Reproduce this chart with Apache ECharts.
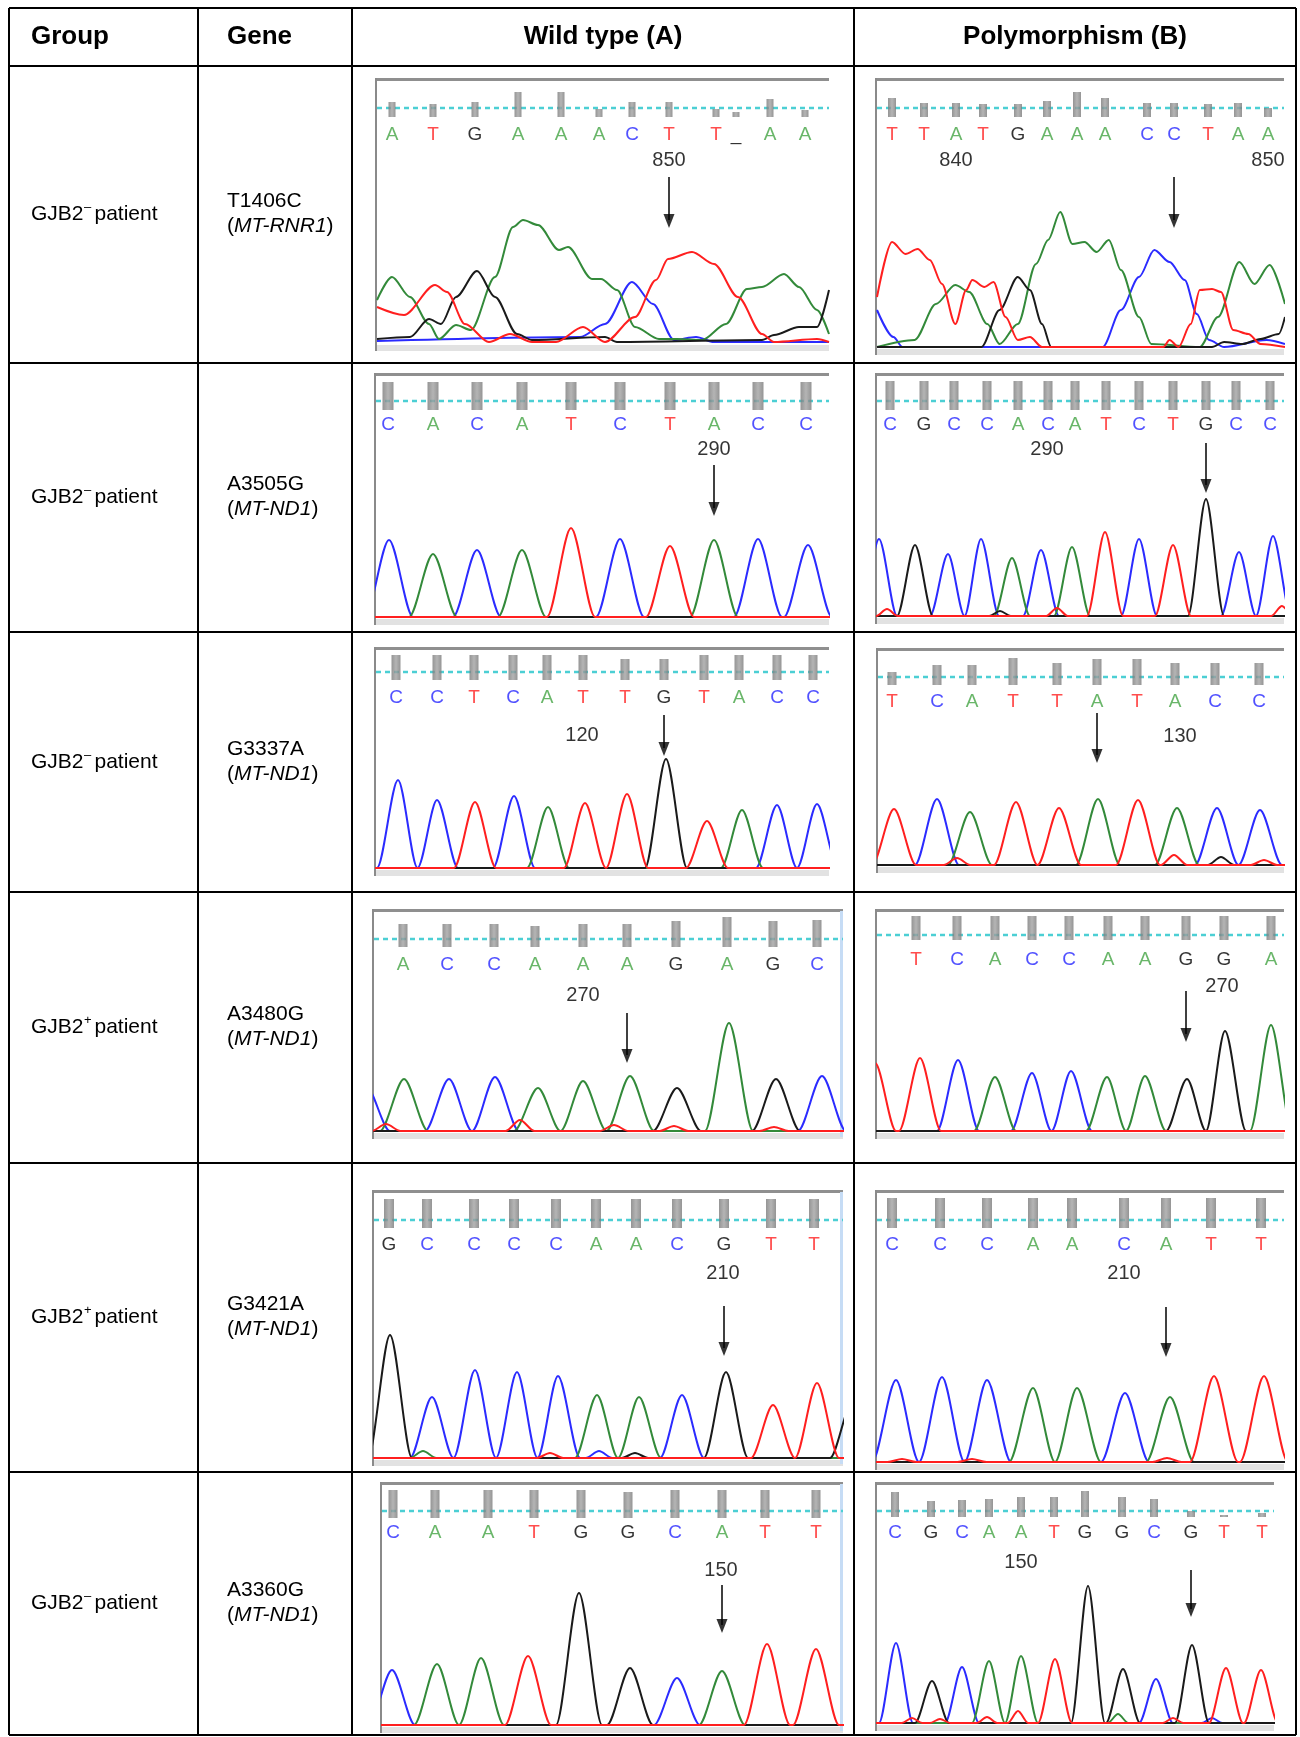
<!DOCTYPE html>
<html>
<head>
<meta charset="UTF-8">
<title>mtDNA polymorphisms</title>
<script src="https://cdn.jsdelivr.net/npm/echarts@6/dist/echarts.min.js"></script>
<style>
body{margin:0;background:#fff;}
#chart{width:1300px;height:1737px;}
</style>
</head>
<body>
<div id="chart"></div>
<script>

// table text
const headers = ["Group","Gene","Wild type (A)","Polymorphism (B)"]
const groupNames = ["GJB2","GJB2","GJB2","GJB2","GJB2","GJB2"]
const groupSigns = ["–","–","–","+","+","–"]
const geneVariants = ["T1406C","A3505G","G3337A","A3480G","G3421A","A3360G"]
const geneLoci = ["MT-RNR1","MT-ND1","MT-ND1","MT-ND1","MT-ND1","MT-ND1"]

// row 1, wild type: broad overlapping peaks, read point by point
const wt1Calls = ["A","T","G","A","A","A","C","T","T","_","A","A"]
const wt1CallX = [15,56,98,141,184,222,255,292,339,359,393,428]
const wt1Quality = [15,13,15,25,25,8,15,15,8,5,18,7]
const wt1Labels = [["850",292]]
const wt1ArrowX = 292
const wt1TraceA = [[0,43],[15,66],[33,46],[52,19],[62,4],[79,18],[94,13],[118,66],[136,116],[146,123],[161,118],[182,93],[191,96],[215,64],[224,64],[240,53],[258,16],[282,4],[300,4],[325,3],[349,19],[370,54],[385,56],[407,69],[422,56],[440,33],[452,9]]
const wt1TraceT = [[0,36],[27,28],[58,58],[70,51],[88,19],[112,1],[133,9],[155,1],[179,1],[206,16],[228,1],[258,26],[279,63],[291,84],[315,91],[337,79],[361,46],[385,9],[397,1],[440,4],[452,1]]
const wt1TraceG = [[0,4],[33,6],[52,24],[64,19],[79,46],[100,72],[118,46],[140,9],[155,3],[228,6],[240,1],[385,3],[397,8],[422,16],[440,16],[452,53]]
const wt1TraceC = [[0,2],[203,6],[228,19],[255,61],[276,39],[297,3],[319,6],[337,1],[391,1],[452,1]]

// row 1, polymorphism
const pm1Calls = ["T","T","A","T","G","A","A","A","C","C","T","A","A"]
const pm1CallX = [15,47,79,106,141,170,200,228,270,297,331,361,391]
const pm1Quality = [19,14,14,13,13,16,25,19,14,14,13,14,9]
const pm1Labels = [["840",79],["850",391]]
const pm1ArrowX = 297
const pm1TraceT = [[0,50],[15,105],[28.5,93],[40.6,98],[52.8,87],[65,63],[78.3,23],[89.2,57],[95.3,67],[107.4,60],[116.5,65],[128.6,30],[140.8,7],[152.9,10],[165,0],[286.4,0],[292.5,7],[301.6,0],[313.7,23],[322.8,57],[335,58],[344,55],[356.2,17],[371.3,13],[383.5,3],[408,0]]
const pm1TraceA = [[0,0],[37.6,7],[58.9,43],[78.3,62],[92.2,55],[110.4,23],[122.6,3],[140.8,23],[159,83],[171.1,107],[183.2,135],[195.4,103],[207.5,105],[219.6,95],[231.8,107],[243.9,77],[262,30],[274.3,3],[322.8,0],[341,30],[362.3,85],[377.4,63],[392.6,82],[408,43]]
const pm1TraceG = [[0,0],[104.4,0],[122.6,37],[140.8,70],[152.9,57],[165,23],[174.2,0],[335,0],[347.1,5],[365.3,3],[383.5,8],[401.7,13],[408,30]]
const pm1TraceC = [[0,37],[16.4,10],[25.5,0],[225.7,0],[243.9,37],[262,70],[277.3,97],[292.5,85],[307.7,67],[319.8,33],[332,7],[347.1,0],[389.6,7],[408,3]]

// rows 2-6: peaks as [base, position, height]
const wt2Calls = ["C","A","C","A","T","C","T","A","C","C"]
const wt2CallX = [12,57,101,146,195,244,294,338,382,430]
const wt2Quality = [28,28,28,28,28,28,28,28,28,28]
const wt2Labels = [["290",338]]
const wt2ArrowX = 338
const wt2Peaks = [["C",13,77],["A",57,63],["C",101,67],["A",146,67],["T",195,89],["C",244,78],["T",294,71],["A",338,77],["C",382,78],["C",432,72]]

const pm2Calls = ["C","G","C","C","A","C","A","T","C","T","G","C","C"]
const pm2CallX = [13,47,77,110,141,171,198,229,262,296,329,359,393]
const pm2Quality = [29,29,29,29,29,29,29,29,29,29,29,29,29]
const pm2Labels = [["290",170]]
const pm2ArrowX = 329
const pm2Peaks = [["C",2,77],["G",38,71],["C",71,62],["C",104,77],["A",135,58],["C",164,66],["A",195,69],["T",228,84],["C",262,77],["T",296,71],["G",329,117],["C",362,64],["C",396,80],["T",10,7],["T",180,8],["T",405,10],["G",123,5]]

const wt3Calls = ["C","C","T","C","A","T","T","G","T","A","C","C"]
const wt3CallX = [20,61,98,137,171,207,249,288,328,363,401,437]
const wt3Quality = [25,25,25,25,25,25,21,21,25,25,25,25]
const wt3Labels = [["120",206]]
const wt3ArrowX = 288
const wt3Peaks = [["C",22,88],["C",61,68],["T",99,66],["C",138,72],["A",172,61],["T",209,65],["T",251,74],["G",290,109],["T",331,47],["A",366,58],["C",401,63],["C",441,64]]

const pm3Calls = ["T","C","A","T","T","A","T","A","C","C"]
const pm3CallX = [14,59,94,135,179,219,259,297,337,381]
const pm3Quality = [13,20,20,27,22,26,26,22,22,22]
const pm3Labels = [["130",302]]
const pm3ArrowX = 219
const pm3Peaks = [["T",16,56],["C",59,66],["A",92,53],["T",138,63],["T",181,57],["A",220,66],["T",260,65],["A",299,57],["C",339,57],["C",382,55],["T",79,7],["T",296,10],["G",343,8],["T",386,5]]

const wt4Calls = ["A","C","C","A","A","A","G","A","G","C"]
const wt4CallX = [29,73,120,161,209,253,302,353,399,443]
const wt4Quality = [23,23,23,21,23,23,26,30,26,27]
const wt4Labels = [["270",209]]
const wt4ArrowX = 253
const wt4Peaks = [["C",-8,45],["A",30,52],["C",75,52],["C",121,54],["A",164,43],["A",209,50],["A",256,55],["G",303,43],["A",355,108],["G",402,52],["C",448,55],["T",12,7],["T",146,11],["T",240,6],["T",300,5],["T",400,4]]

const pm4Calls = ["T","C","A","C","C","A","A","G","G","A"]
const pm4CallX = [39,80,118,155,192,231,268,309,347,394]
const pm4Quality = [24,24,24,24,24,24,24,24,24,24]
const pm4Labels = [["270",345]]
const pm4ArrowX = 309
const pm4Peaks = [["T",-2,68],["T",43,73],["C",81,71],["A",118,54],["C",155,58],["C",194,60],["A",230,54],["A",268,55],["G",310,52],["G",348,100],["A",394,106]]

const wt5Calls = ["G","C","C","C","C","A","A","C","G","T","T"]
const wt5CallX = [15,53,100,140,182,222,262,303,350,397,440]
const wt5Quality = [29,29,29,29,29,29,29,29,29,29,29]
const wt5Labels = [["210",349]]
const wt5ArrowX = 350
const wt5Peaks = [["G",16,123],["C",58,61],["C",101,88],["C",143,86],["C",184,82],["A",223,63],["A",265,61],["C",308,63],["G",352,86],["T",399,53],["T",443,75],["G",478,55],["A",49,7],["C",225,7],["G",261,5],["T",176,5]]

const pm5Calls = ["C","C","C","A","A","C","A","T","T"]
const pm5CallX = [15,63,110,156,195,247,289,334,384]
const pm5Quality = [30,30,30,30,30,30,30,30,30]
const pm5Labels = [["210",247]]
const pm5ArrowX = 289
const pm5Peaks = [["C",19,82],["C",65,85],["C",110,82],["A",156,74],["A",200,74],["C",248,69],["A",293,65],["T",337,86],["T",387,86],["T",25,3],["T",95,3],["T",290,4]]

const wt6Calls = ["C","A","A","T","G","G","C","A","T","T"]
const wt6CallX = [11,53,106,152,199,246,293,340,383,434]
const wt6Quality = [28,28,28,28,28,26,28,28,28,28]
const wt6Labels = [["150",339]]
const wt6ArrowX = 340
const wt6Peaks = [["C",10,55],["A",55,61],["A",99,67],["T",146,69],["G",197,132],["G",248,57],["C",295,47],["A",340,54],["T",385,81],["T",434,76]]

const pm6Calls = ["C","G","C","A","A","T","G","G","C","G","T","T"]
const pm6CallX = [18,54,85,112,144,177,208,245,277,314,347,385]
const pm6Quality = [25,16,17,18,20,20,26,20,18,6,2,4]
const pm6Labels = [["150",144]]
const pm6ArrowX = 314
const pm6Peaks = [["C",19,80],["G",55,42],["C",85,56],["A",112,62],["A",144,67],["T",178,64],["G",211,137],["G",246,54],["C",279,44],["G",315,78],["T",349,55],["T",384,53],["T",35,5],["T",63,4],["T",110,6],["T",141,12],["A",241,9],["T",296,5],["C",335,5]]

// colours
const traceColors = {A:"#338a3a",C:"#2b2bff",G:"#1a1a1a",T:"#ff1f1f"}
const callColors = {A:"#44a444",C:"#2525ff",G:"#000000",T:"#ff2020","_":"#000000"}
const barColor = {type:"linear",x:0,y:0,x2:1,y2:0,colorStops:[{offset:0,color:"#7a7a7a"},{offset:0.5,color:"#a2a2a2"},{offset:1,color:"#7a7a7a"}]}

// page layout of the table and of each chromatogram window
const colX = [9,198,352,854,1296]
const rowY = [8,66,363,632,892,1163,1472,1735]
const FONT = "Liberation Sans, Arial, sans-serif"

const panels = [
 {calls:wt1Calls,x:wt1CallX,q:wt1Quality,labels:wt1Labels,arrow:wt1ArrowX,traces:{A:wt1TraceA,C:wt1TraceC,G:wt1TraceG,T:wt1TraceT},
  box:{left:377,top:80,right:829,base:343,barBottom:117,cyanY:108,letterY:135,numY:160,arrowTop:177,arrowTip:228,barW:7}},
 {calls:pm1Calls,x:pm1CallX,q:pm1Quality,labels:pm1Labels,arrow:pm1ArrowX,traces:{A:pm1TraceA,C:pm1TraceC,G:pm1TraceG,T:pm1TraceT},
  box:{left:877,top:80,right:1284,base:347,barBottom:117,cyanY:108,letterY:135,numY:160,arrowTop:177,arrowTip:228,barW:8}},
 {calls:wt2Calls,x:wt2CallX,q:wt2Quality,labels:wt2Labels,arrow:wt2ArrowX,peaks:wt2Peaks,
  box:{left:376,top:375,right:829,base:617,barBottom:410,cyanY:401,letterY:425,numY:449,arrowTop:465,arrowTip:516,barW:11,hw:24}},
 {calls:pm2Calls,x:pm2CallX,q:pm2Quality,labels:pm2Labels,arrow:pm2ArrowX,peaks:pm2Peaks,
  box:{left:877,top:375,right:1284,base:616,barBottom:410,cyanY:401,letterY:425,numY:449,arrowTop:443,arrowTip:493,barW:9,hw:18}},
 {calls:wt3Calls,x:wt3CallX,q:wt3Quality,labels:wt3Labels,arrow:wt3ArrowX,peaks:wt3Peaks,
  box:{left:376,top:649,right:829,base:868,barBottom:680,cyanY:672,letterY:698,numY:735,arrowTop:715,arrowTip:756,barW:9,hw:21}},
 {calls:pm3Calls,x:pm3CallX,q:pm3Quality,labels:pm3Labels,arrow:pm3ArrowX,peaks:pm3Peaks,
  box:{left:878,top:650,right:1284,base:865,barBottom:685,cyanY:677,letterY:702,numY:736,arrowTop:713,arrowTip:763,barW:9,hw:22}},
 {calls:wt4Calls,x:wt4CallX,q:wt4Quality,labels:wt4Labels,arrow:wt4ArrowX,peaks:wt4Peaks,
  box:{left:374,top:911,right:843,base:1131,barBottom:947,cyanY:939,letterY:965,numY:995,arrowTop:1013,arrowTip:1063,barW:9,hw:24,edge:true}},
 {calls:pm4Calls,x:pm4CallX,q:pm4Quality,labels:pm4Labels,arrow:pm4ArrowX,peaks:pm4Peaks,
  box:{left:877,top:911,right:1284,base:1131,barBottom:940,cyanY:935,letterY:960,numY:986,arrowTop:991,arrowTip:1042,barW:9,hw:21}},
 {calls:wt5Calls,x:wt5CallX,q:wt5Quality,labels:wt5Labels,arrow:wt5ArrowX,peaks:wt5Peaks,
  box:{left:374,top:1192,right:843,base:1458,barBottom:1228,cyanY:1220,letterY:1245,numY:1273,arrowTop:1306,arrowTip:1356,barW:10,hw:22,edge:true}},
 {calls:pm5Calls,x:pm5CallX,q:pm5Quality,labels:pm5Labels,arrow:pm5ArrowX,peaks:pm5Peaks,
  box:{left:877,top:1192,right:1284,base:1462,barBottom:1228,cyanY:1220,letterY:1245,numY:1273,arrowTop:1307,arrowTip:1357,barW:10,hw:24}},
 {calls:wt6Calls,x:wt6CallX,q:wt6Quality,labels:wt6Labels,arrow:wt6ArrowX,peaks:wt6Peaks,
  box:{left:382,top:1484,right:843,base:1725,barBottom:1518,cyanY:1511,letterY:1533,numY:1570,arrowTop:1585,arrowTip:1633,barW:9,hw:23,edge:true}},
 {calls:pm6Calls,x:pm6CallX,q:pm6Quality,labels:pm6Labels,arrow:pm6ArrowX,peaks:pm6Peaks,
  box:{left:877,top:1484,right:1274,base:1723,barBottom:1517,cyanY:1511,letterY:1533,numY:1562,arrowTop:1570,arrowTip:1617,barW:8,hw:17}}
]

// one trace line from the peak list: each peak rises from the baseline and falls back
function peakTrace(peaks,base,hw){
 const pts=[]
 peaks.filter(p=>p[0]===base).sort((a,b)=>a[1]-b[1]).forEach(p=>{
  const w = p[2] < 15 ? hw*0.6 : hw
  const foot = p[1]-w
  const prev = pts[pts.length-1]
  if(prev && prev[1]===0 && prev[0] > foot){
   prev[0] = (prev[0]+foot)/2
  } else {
   pts.push([foot,0])
  }
  pts.push([p[1],p[2]])
  pts.push([p[1]+w,0])
 })
 return [[-60,0],...pts,[1000,0]]
}

const grid=[], xAxis=[], yAxis=[], series=[], elements=[]

panels.forEach((p,i)=>{

 const b = p.box
 const w = b.right-b.left
 const h = b.base-b.top
 const yOf = py => b.base-py

 grid.push({left:b.left,top:b.top,width:w,height:h,containLabel:false,outerBoundsMode:"none"})
 xAxis.push({type:"value",gridIndex:i,min:0,max:w,show:false})
 yAxis.push({type:"value",gridIndex:i,min:0,max:h,show:false})

 const common = {xAxisIndex:i,yAxisIndex:i,silent:true,animation:false}

 series.push({...common,type:"line",symbol:"none",z:2,
  data:[[0,yOf(b.cyanY)],[w,yOf(b.cyanY)]],
  lineStyle:{color:"#4ccfd4",width:2.5,type:[5,4]}})

 series.push({...common,type:"scatter",symbol:"rect",z:3,
  data:p.q.map((q,k)=>({value:[p.x[k],yOf(b.barBottom)+q/2],symbolSize:[b.barW,q]})),
  itemStyle:{color:barColor}})

 series.push({...common,type:"scatter",symbolSize:1,z:4,
  data:p.calls.map((c,k)=>({name:c,value:[p.x[k],yOf(b.letterY)],label:{color:callColors[c]}})),
  itemStyle:{color:"rgba(0,0,0,0)"},
  label:{show:true,position:"inside",formatter:"{b}",fontSize:19,fontFamily:FONT}})

 series.push({...common,type:"scatter",symbolSize:1,z:4,
  data:p.labels.map(l=>({name:l[0],value:[l[1],yOf(b.numY)]})),
  itemStyle:{color:"rgba(0,0,0,0)"},
  label:{show:true,position:"inside",formatter:"{b}",fontSize:20,fontFamily:FONT,color:"#000"}})

 series.push({...common,type:"line",symbol:"none",z:4,
  data:[[p.arrow,yOf(b.arrowTop)],[p.arrow,yOf(b.arrowTip)+8]],
  lineStyle:{color:"#000",width:1.5}})

 series.push({...common,type:"scatter",symbol:"triangle",symbolRotate:180,symbolSize:[11,14],z:4,
  data:[[p.arrow,yOf(b.arrowTip)+7]],
  itemStyle:{color:"#000"}})

 ;["C","A","G","T"].forEach(base=>{
  const data = p.traces ? p.traces[base] : peakTrace(p.peaks,base,b.hw)
  series.push({...common,type:"line",symbol:"none",smooth:0.3,smoothMonotone:"x",clip:true,z:2,
   data,
   lineStyle:{color:traceColors[base],width:2}})
 })

 // window frame of the sequencing viewer
 elements.push({type:"rect",silent:true,z:1,shape:{x:b.left-2,y:b.top-2,width:w+2,height:3},style:{fill:"#8f8f8f"}})
 elements.push({type:"rect",silent:true,z:1,shape:{x:b.left-2,y:b.top-2,width:2,height:h+10},style:{fill:"#8a8a8a"}})
 elements.push({type:"rect",silent:true,z:1,shape:{x:b.left,y:b.base+2,width:w,height:6},style:{fill:"#e2e2e2"}})
 if(b.edge){
  elements.push({type:"rect",silent:true,z:1,shape:{x:b.right-3,y:b.top,width:3,height:h+6},style:{fill:"#c6dcf5"}})
 }

})

// table rules
rowY.forEach(y=>{
 elements.push({type:"line",silent:true,z:5,shape:{x1:colX[0],y1:y,x2:colX[4],y2:y},style:{stroke:"#000",lineWidth:2}})
})
colX.forEach(x=>{
 elements.push({type:"line",silent:true,z:5,shape:{x1:x,y1:rowY[0],x2:x,y2:rowY[rowY.length-1]},style:{stroke:"#000",lineWidth:2}})
})

// header
const headerX = [31,227,(colX[2]+colX[3])/2,(colX[3]+colX[4])/2]
const headerAlign = ["left","left","center","center"]
headers.forEach((t,k)=>{
 elements.push({type:"text",silent:true,z:5,x:headerX[k],y:(rowY[0]+rowY[1])/2,
  style:{text:t,fontSize:26,fontWeight:"bold",fontFamily:FONT,fill:"#000",
   align:headerAlign[k],textAlign:headerAlign[k],verticalAlign:"middle",textVerticalAlign:"middle"}})
})

// group and gene cells
groupNames.forEach((g,r)=>{
 const cy = (rowY[r+1]+rowY[r+2])/2
 const txt = (text,x,y,size,extra)=>({type:"text",silent:true,z:5,x,y,
  style:Object.assign({text,fontSize:size,fontFamily:FONT,fill:"#000",align:"left",textAlign:"left",verticalAlign:"middle",textVerticalAlign:"middle"},extra||{})})
 elements.push(txt(g,31,cy,21))
 elements.push(txt(groupSigns[r],84,cy-7,13))
 elements.push(txt("patient",94.5,cy,21))
 elements.push(txt(geneVariants[r],227,cy-13,21))
 elements.push(txt("({i|"+geneLoci[r]+"})",227,cy+12,21,{rich:{i:{fontStyle:"italic",fontSize:21,fontFamily:FONT,fill:"#000"}}}))
})

const chart = echarts.init(document.getElementById("chart"))

chart.setOption({
 animation:false,
 backgroundColor:"#ffffff",
 grid,
 xAxis,
 yAxis,
 series,
 graphic:{elements}
})

</script>
</body>
</html>
